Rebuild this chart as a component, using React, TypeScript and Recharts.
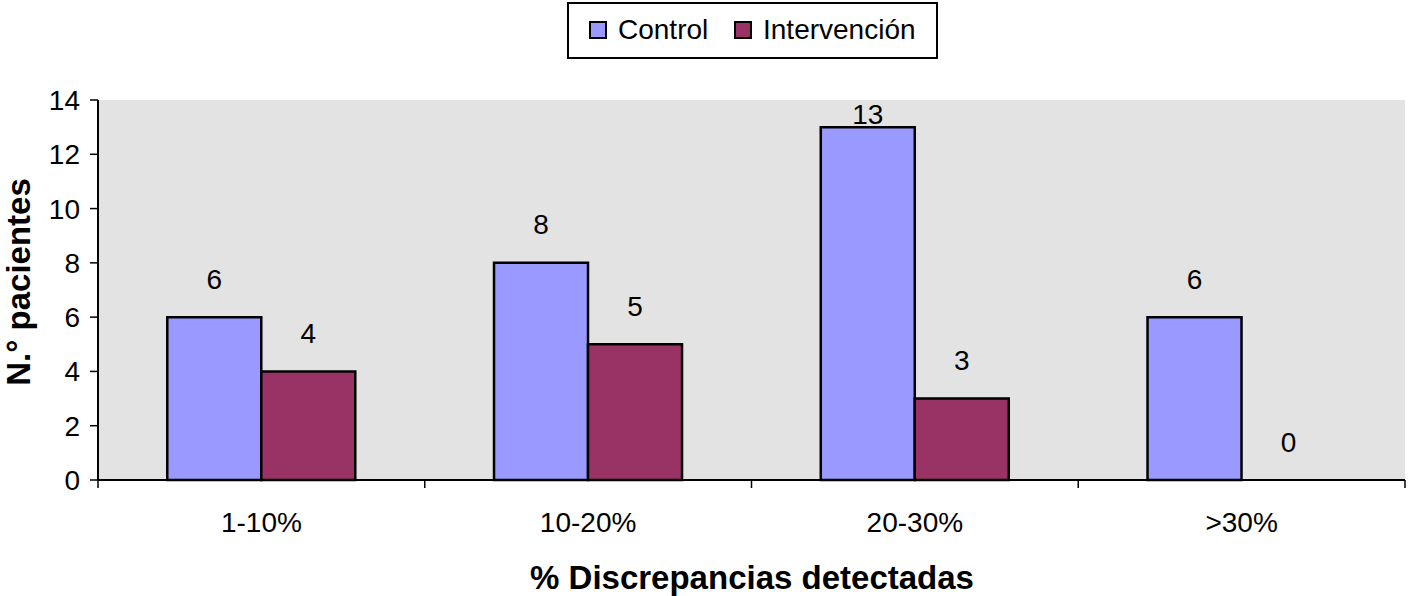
import { BarChart, Bar, XAxis, YAxis, CartesianGrid, LabelList, Label, Cell } from 'recharts';

const categories = ['1-10%', '10-20%', '20-30%', '>30%'];
const controlValues = [6, 8, 13, 6];
const intervencionValues = [4, 5, 3, 0];
const yTicks = [0, 2, 4, 6, 8, 10, 12, 14];
const seriesNames = ['Control', 'Intervención'];
const seriesColors = ['#9999FF', '#993366'];

const chartData = categories.map((cat, i) => ({
	cat,
	control: controlValues[i],
	intervencion: intervencionValues[i],
}));

const FONT = '"Liberation Sans", Arial, Helvetica, sans-serif';
const AXIS_Y = 480;

const ValueLabel = (props: any) => {
	const { x, y, width, height, value } = props;
	// bar top (zero bars sit on the axis)
	const top = value === 0 ? AXIS_Y : Math.min(y, y + height);
	const cy = Math.max(top - 38, 114);
	return (
		<text x={x + width / 2} y={cy} textAnchor='middle' dominantBaseline='central' fontSize={28} fill='#000' fontFamily={FONT}>
			{value}
		</text>
	);
};

const CategoryTick = (props: any) => {
	const { x, payload, index } = props;
	const band = 1307 / categories.length;
	return (
		<g>
			{index === 0 && <line x1={x - band / 2} x2={x - band / 2} y1={AXIS_Y} y2={AXIS_Y + 8} stroke='#000' strokeWidth={1.5} />}
			<line x1={x + band / 2} x2={x + band / 2} y1={AXIS_Y} y2={AXIS_Y + 8} stroke='#000' strokeWidth={1.5} />
			<text x={x} y={AXIS_Y + 52} textAnchor='middle' fontSize={28} fill='#000' fontFamily={FONT}>
				{payload.value}
			</text>
		</g>
	);
};

const LegendBox = () => (
	<div
		style={{
			position: 'absolute',
			left: 567,
			top: 2,
			width: 367,
			height: 53,
			border: '2px solid #000',
			background: '#fff',
			fontFamily: FONT,
			fontSize: 28,
			color: '#000',
		}}
	>
		{seriesNames.map((name, i) => (
			<div key={name} style={{ position: 'absolute', left: i === 0 ? 20 : 165, top: -1, height: 53, display: 'flex', alignItems: 'center' }}>
				<span
					style={{
						display: 'inline-block',
						width: 14,
						height: 14,
						border: '2px solid #000',
						background: seriesColors[i],
						marginRight: 11,
					}}
				/>
				<span>{name}</span>
			</div>
		))}
	</div>
);

const App = () => {
	return (
		<div style={{ position: 'absolute', left: 0, top: 0, width: 1412, height: 596, background: '#fff' }}>
			<BarChart
				width={1412}
				height={596}
				data={chartData}
				margin={{ top: 100, right: 7, bottom: 0, left: 0 }}
				barCategoryGap='21.2%'
				barGap={0}
			>
				<CartesianGrid horizontal={false} vertical={false} fill='#E3E3E3' />
				<XAxis
					dataKey='cat'
					height={116}
					axisLine={{ stroke: '#000', strokeWidth: 2 }}
					tickLine={false}
					tick={<CategoryTick />}
					interval={0}
				>
					<Label
						content={() => (
							<text x={752} y={589} textAnchor='middle' fontSize={33} fontWeight='bold' fill='#000' fontFamily={FONT}>
								% Discrepancias detectadas
							</text>
						)}
					/>
				</XAxis>
				<XAxis xAxisId='top' dataKey='cat' orientation='top' height={0} tick={false} tickLine={false} axisLine={{ stroke: '#888', strokeWidth: 2 }} />
				<YAxis
					width={98}
					domain={[0, 14]}
					ticks={yTicks}
					interval={0}
					tickSize={8}
					tickMargin={10}
					axisLine={{ stroke: '#000', strokeWidth: 2 }}
					tickLine={{ stroke: '#000', strokeWidth: 1.5 }}
					tick={{ fontSize: 28, fill: '#000', fontFamily: FONT }}
				>
					<Label
						content={() => (
							<text
								x={18}
								y={282}
								transform='rotate(-90 18 282)'
								textAnchor='middle'
								dominantBaseline='central'
								fontSize={33}
								fontWeight='bold'
								fill='#000'
								fontFamily={FONT}
							>
								N.° pacientes
							</text>
						)}
					/>
				</YAxis>
				<YAxis yAxisId='right' orientation='right' width={0} domain={[0, 14]} tick={false} tickLine={false} axisLine={{ stroke: '#888', strokeWidth: 2 }} />
				<Bar dataKey='control' name={seriesNames[0]} fill={seriesColors[0]} stroke='#000' strokeWidth={2.5} isAnimationActive={false}>
					<LabelList dataKey='control' content={ValueLabel} />
				</Bar>
				<Bar
					dataKey='intervencion'
					name={seriesNames[1]}
					fill={seriesColors[1]}
					stroke='#000'
					strokeWidth={2.5}
					minPointSize={1}
					isAnimationActive={false}
				>
					{intervencionValues.map((v, i) => (
						<Cell key={i} fill={v === 0 ? 'none' : seriesColors[1]} stroke={v === 0 ? 'none' : '#000'} />
					))}
					<LabelList dataKey='intervencion' content={ValueLabel} />
				</Bar>
			</BarChart>
			<LegendBox />
		</div>
	);
};

export default App;
